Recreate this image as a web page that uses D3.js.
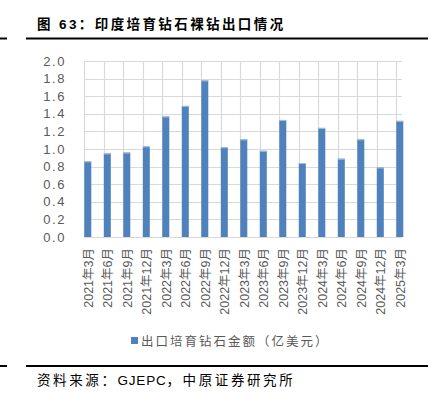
<!DOCTYPE html>
<html><head><meta charset="utf-8">
<script src="https://cdn.jsdelivr.net/npm/d3@7"></script>
<style>
html,body{margin:0;padding:0;background:#fff;}
svg{display:block;}
</style></head>
<body>
<svg id="c" width="437" height="397"></svg>
<script>
const categories = ["2021年3月","2021年6月","2021年9月","2021年12月","2022年3月","2022年6月","2022年9月","2022年12月","2023年3月","2023年6月","2023年9月","2023年12月","2024年3月","2024年6月","2024年9月","2024年12月","2025年3月"];
const values = [0.86,0.95,0.96,1.03,1.37,1.49,1.78,1.02,1.11,0.98,1.33,0.84,1.24,0.89,1.11,0.79,1.32];
const yTicks = [0,0.2,0.4,0.6,0.8,1.0,1.2,1.4,1.6,1.8,2.0];
const seriesName = "出口培育钻石金额（亿美元）";
const title = "图 63：印度培育钻石裸钻出口情况";
const sourceParts = ["资料来源：", "GJEPC", "，中原证券研究所"];

(function(){
const svg = d3.select("#c");
const cjk = "'Noto Sans CJK SC', 'Liberation Sans', sans-serif";
const latinCjk = "'Liberation Sans', 'Noto Sans CJK SC', sans-serif";

[38.5, 366].forEach(yy=>{
  svg.append("line").attr("x1",0).attr("x2",7).attr("y1",yy).attr("y2",yy).attr("stroke","#000").attr("stroke-width",2);
  svg.append("line").attr("x1",26).attr("x2",428).attr("y1",yy).attr("y2",yy).attr("stroke","#000").attr("stroke-width",2);
});
svg.append("text").attr("x",37).attr("y",29).text(title)
  .attr("font-family",latinCjk).attr("font-weight","bold").attr("font-size",13.5)
  .attr("letter-spacing","2.4px").attr("fill","#000");
const src = svg.append("text").attr("x",37).attr("y",385)
  .attr("font-family",latinCjk).attr("font-size",13.5).attr("fill","#000");
src.selectAll("tspan").data(sourceParts).join("tspan")
  .attr("letter-spacing",(d,i)=>i===1?"0.8px":"2.6px")
  .text(d=>d);

const pLeft = 84, pRight = 402, pTop = 61, pBottom = 237;
const step = 19.5;
const x = d3.scaleBand().domain(categories).range([pLeft, pLeft + step*categories.length]).paddingInner(0).paddingOuter(0);
const y = d3.scaleLinear().domain([0,2]).range([pBottom, pTop]);

const g = svg.append("g");
g.selectAll(".hg").data(yTicks).join("line")
  .attr("x1",pLeft).attr("x2",pRight)
  .attr("y1",d=>Math.round(y(d))+0.5).attr("y2",d=>Math.round(y(d))+0.5)
  .attr("stroke","#d9d9d9").attr("stroke-width",1.2);
g.selectAll(".vg").data(categories).join("line")
  .attr("x1",d=>Math.round(x(d))+0.5).attr("x2",d=>Math.round(x(d))+0.5)
  .attr("y1",pTop).attr("y2",pBottom)
  .attr("stroke","#d9d9d9").attr("stroke-width",1.2);

const bw = 7;
g.selectAll(".bar").data(values).join("rect")
  .attr("x",(d,i)=>x(categories[i])+0.3)
  .attr("width",bw)
  .attr("y",d=>y(d))
  .attr("height",d=>pBottom - y(d))
  .attr("fill","#4f81bd");
g.selectAll(".bartop").data(values).join("line")
  .attr("x1",(d,i)=>x(categories[i])+0.3).attr("x2",(d,i)=>x(categories[i])+0.3+bw)
  .attr("y1",d=>y(d)+0.5).attr("y2",d=>y(d)+0.5)
  .attr("stroke","#a9c1e0").attr("stroke-width",1);

const yAxis = d3.axisLeft(y).tickValues(yTicks).tickSize(0).tickPadding(0).tickFormat(d3.format(".1f"));
const ya = svg.append("g").attr("transform","translate(66,0)").call(yAxis);
ya.select(".domain").remove();
ya.selectAll("text").attr("font-family","'Liberation Sans', sans-serif").attr("font-size",13)
  .attr("letter-spacing","1.6px").attr("fill","#595959");

const xa = svg.append("g").attr("transform",`translate(0,${pBottom})`)
  .call(d3.axisBottom(x).tickSize(0).tickPadding(0));
xa.select(".domain").remove();
xa.selectAll(".tick").attr("transform",d=>`translate(${x(d)+4.2},0)`);
xa.selectAll("text")
  .attr("transform","rotate(-90)")
  .attr("x",-11).attr("y",0).attr("dy","0.35em")
  .attr("text-anchor","end")
  .attr("font-family",latinCjk).attr("font-size",12.5).attr("fill","#595959");

svg.append("rect").attr("x",131).attr("y",337).attr("width",7).attr("height",7).attr("fill","#4f81bd");
svg.append("text").attr("x",141).attr("y",346).text(seriesName)
  .attr("font-family",cjk).attr("font-size",12.5).attr("letter-spacing","2px").attr("fill","#595959");
})();
</script>
</body></html>
